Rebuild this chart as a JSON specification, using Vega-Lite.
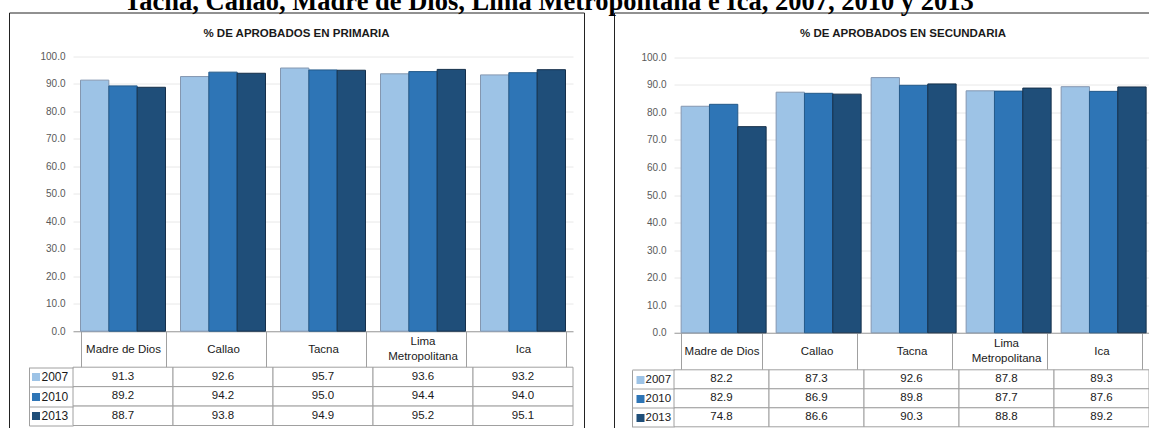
{
  "$schema": "https://vega.github.io/schema/vega-lite/v6.json",
  "padding": {"top": -11.5, "left": 8, "right": -8, "bottom": -4},
  "background": "white",
  "title": {
    "text": "Tacna, Callao, Madre de Dios, Lima Metropolitana e Ica, 2007, 2010 y 2013",
    "font": "Liberation Serif", "fontSize": 26.5, "fontWeight": "bold", "color": "#000000",
    "anchor": "start", "dx": 115, "offset": -30.5, "baseline": "alphabetic", "frame": "group"
  },
  "datasets": {
    "primaria": [
      {"region": "Madre de Dios", "year": "2007", "value": 91.3},
      {"region": "Madre de Dios", "year": "2010", "value": 89.2},
      {"region": "Madre de Dios", "year": "2013", "value": 88.7},
      {"region": "Callao", "year": "2007", "value": 92.6},
      {"region": "Callao", "year": "2010", "value": 94.2},
      {"region": "Callao", "year": "2013", "value": 93.8},
      {"region": "Tacna", "year": "2007", "value": 95.7},
      {"region": "Tacna", "year": "2010", "value": 95.0},
      {"region": "Tacna", "year": "2013", "value": 94.9},
      {"region": "Lima Metropolitana", "year": "2007", "value": 93.6},
      {"region": "Lima Metropolitana", "year": "2010", "value": 94.4},
      {"region": "Lima Metropolitana", "year": "2013", "value": 95.2},
      {"region": "Ica", "year": "2007", "value": 93.2},
      {"region": "Ica", "year": "2010", "value": 94.0},
      {"region": "Ica", "year": "2013", "value": 95.1}
    ],
    "secundaria": [
      {"region": "Madre de Dios", "year": "2007", "value": 82.2},
      {"region": "Madre de Dios", "year": "2010", "value": 82.9},
      {"region": "Madre de Dios", "year": "2013", "value": 74.8},
      {"region": "Callao", "year": "2007", "value": 87.3},
      {"region": "Callao", "year": "2010", "value": 86.9},
      {"region": "Callao", "year": "2013", "value": 86.6},
      {"region": "Tacna", "year": "2007", "value": 92.6},
      {"region": "Tacna", "year": "2010", "value": 89.8},
      {"region": "Tacna", "year": "2013", "value": 90.3},
      {"region": "Lima Metropolitana", "year": "2007", "value": 87.8},
      {"region": "Lima Metropolitana", "year": "2010", "value": 87.7},
      {"region": "Lima Metropolitana", "year": "2013", "value": 88.8},
      {"region": "Ica", "year": "2007", "value": 89.3},
      {"region": "Ica", "year": "2010", "value": 87.6},
      {"region": "Ica", "year": "2013", "value": 89.2}
    ]
  },
  "spacing": 28,
  "hconcat": [
    {
      "width": 575, "height": 420,
      "data": {"name": "primaria"},
      "title": {"text": "% DE APROBADOS EN PRIMARIA", "font": "Liberation Sans", "fontSize": 11.5, "fontWeight": "bold", "color": "#1a1a1a", "anchor": "middle", "frame": "group", "baseline": "middle", "offset": -38.6},
      "layer": [
        {
          "mark": {"type": "bar", "strokeWidth": 1},
          "encoding": {
            "x": {"field": "region", "type": "nominal", "sort": null,
              "scale": {"range": [64, 564], "paddingInner": 0.15, "paddingOuter": 0.075},
              "axis": {"orient": "bottom", "offset": -101.3, "title": null, "tickBand": "extent", "tickSize": 36, "tickColor": "#a0a0a0", "domainColor": "#a0a0a0", "labelAngle": 0, "labelBaseline": "middle", "labelPadding": -18, "labelFont": "Liberation Sans", "labelFontSize": 11.5, "labelColor": "#1a1a1a", "labelLimit": 300, "labelOverlap": false, "labelExpr": "length(datum.label) > 14 ? '' : datum.label"}},
            "xOffset": {"field": "year", "type": "nominal", "scale": {"paddingInner": 0, "paddingOuter": 0}},
            "y": {"field": "value", "type": "quantitative",
              "scale": {"domain": [0, 100], "range": [318.7, 43.7], "nice": false},
              "axis": {"orient": "left", "offset": -64, "title": null, "values": [0, 10, 20, 30, 40, 50, 60, 70, 80, 90, 100], "format": ".1f", "ticks": false, "domain": false, "grid": true, "gridColor": "#e8e8e8", "labelPadding": 8, "labelFont": "Liberation Sans", "labelFontSize": 10, "labelColor": "#595959"}},
            "color": {"field": "year", "type": "nominal", "scale": {"range": ["#9DC3E6", "#2E75B6", "#1F4E79"]}, "legend": null},
            "stroke": {"field": "year", "type": "nominal", "scale": {"range": ["#8497b0", "#245a8a", "#152f4a"]}, "legend": null}
          }
        },
        {
          "mark": {"type": "rect", "fill": "white", "stroke": "#a0a0a0", "strokeWidth": 1},
          "encoding": {
            "x": {"field": "region", "type": "nominal", "sort": null, "scale": {"range": [64, 564], "paddingInner": 0, "paddingOuter": 0},
              "axis": {"orient": "top", "offset": -318.7, "title": null, "ticks": false, "domain": false, "grid": false, "labelAngle": 0, "labelBaseline": "middle", "labelPadding": -10.25, "labelFont": "Liberation Sans", "labelFontSize": 11.5, "labelColor": "#1a1a1a", "labelLineHeight": 15.5, "labelLimit": 300, "labelOverlap": false, "labelExpr": "length(datum.label) > 14 ? split(datum.label, ' ') : ''"}},
            "y": {"field": "year", "type": "nominal", "scale": {"range": [354.7, 413], "paddingInner": 0, "paddingOuter": 0},
              "axis": {"orient": "right", "offset": -555, "title": null, "domain": true, "domainColor": "#a0a0a0", "tickBand": "extent", "tickSize": 44, "tickColor": "#a0a0a0", "labelAlign": "left", "labelBaseline": "middle", "labelPadding": -32, "labelFont": "Liberation Sans", "labelFontSize": 12, "labelColor": "#1a1a1a", "grid": false}}
          }
        },
        {
          "mark": {"type": "text", "font": "Liberation Sans", "fontSize": 11.5, "color": "#1a1a1a", "align": "center", "baseline": "middle"},
          "encoding": {
            "x": {"field": "region", "type": "nominal", "sort": null, "scale": {"range": [64, 564], "paddingInner": 0, "paddingOuter": 0}, "axis": null},
            "y": {"field": "year", "type": "nominal", "scale": {"range": [354.7, 413], "paddingInner": 0, "paddingOuter": 0},
              "axis": {"orient": "right", "offset": -552.5, "title": null, "domain": false, "labels": false, "ticks": true, "tickSize": 8, "tickWidth": 8, "grid": false,
                "tickColor": {"condition": [{"test": "datum.value === '2007'", "value": "#9DC3E6"}, {"test": "datum.value === '2010'", "value": "#2E75B6"}], "value": "#1F4E79"}}},
            "text": {"field": "value", "type": "quantitative", "format": ".1f"}
          }
        }
      ],
      "resolve": {"scale": {"x": "independent", "y": "independent"}, "axis": {"x": "independent", "y": "independent"}}
    },
    {
      "width": 545, "height": 420,
      "data": {"name": "secundaria"},
      "title": {"text": "% DE APROBADOS EN SECUNDARIA", "font": "Liberation Sans", "fontSize": 11.5, "fontWeight": "bold", "color": "#1a1a1a", "anchor": "start", "frame": "group", "baseline": "middle", "offset": -38.6, "dx": 186},
      "layer": [
        {
          "mark": {"type": "bar", "strokeWidth": 1},
          "encoding": {
            "x": {"field": "region", "type": "nominal", "sort": null,
              "scale": {"range": [60, 535], "paddingInner": 0.15, "paddingOuter": 0.075},
              "axis": {"orient": "bottom", "offset": -99.7, "title": null, "tickBand": "extent", "tickSize": 37, "tickColor": "#a0a0a0", "domainColor": "#a0a0a0", "labelAngle": 0, "labelBaseline": "middle", "labelPadding": -18.6, "labelFont": "Liberation Sans", "labelFontSize": 11.5, "labelColor": "#1a1a1a", "labelLimit": 300, "labelOverlap": false, "labelExpr": "length(datum.label) > 14 ? '' : datum.label"}},
            "xOffset": {"field": "year", "type": "nominal", "scale": {"paddingInner": 0, "paddingOuter": 0}},
            "y": {"field": "value", "type": "quantitative",
              "scale": {"domain": [0, 100], "range": [320.3, 44.7], "nice": false},
              "axis": {"orient": "left", "offset": -60, "title": null, "values": [0, 10, 20, 30, 40, 50, 60, 70, 80, 90, 100], "format": ".1f", "ticks": false, "domain": false, "grid": true, "gridColor": "#e8e8e8", "labelPadding": 8, "labelFont": "Liberation Sans", "labelFontSize": 10, "labelColor": "#595959"}},
            "color": {"field": "year", "type": "nominal", "scale": {"range": ["#9DC3E6", "#2E75B6", "#1F4E79"]}, "legend": null},
            "stroke": {"field": "year", "type": "nominal", "scale": {"range": ["#8497b0", "#245a8a", "#152f4a"]}, "legend": null}
          }
        },
        {
          "mark": {"type": "rect", "fill": "white", "stroke": "#a0a0a0", "strokeWidth": 1},
          "encoding": {
            "x": {"field": "region", "type": "nominal", "sort": null, "scale": {"range": [60, 535], "paddingInner": 0, "paddingOuter": 0},
              "axis": {"orient": "top", "offset": -320.3, "title": null, "ticks": false, "domain": false, "grid": false, "labelAngle": 0, "labelBaseline": "middle", "labelPadding": -10.65, "labelFont": "Liberation Sans", "labelFontSize": 11.5, "labelColor": "#1a1a1a", "labelLineHeight": 15.5, "labelLimit": 300, "labelOverlap": false, "labelExpr": "length(datum.label) > 14 ? split(datum.label, ' ') : ''"}},
            "y": {"field": "year", "type": "nominal", "scale": {"range": [357.3, 414.3], "paddingInner": 0, "paddingOuter": 0},
              "axis": {"orient": "right", "offset": -527, "title": null, "domain": true, "domainColor": "#a0a0a0", "tickBand": "extent", "tickSize": 42, "tickColor": "#a0a0a0", "labelAlign": "left", "labelBaseline": "middle", "labelPadding": -29, "labelFont": "Liberation Sans", "labelFontSize": 11.5, "labelColor": "#1a1a1a", "grid": false}}
          }
        },
        {
          "mark": {"type": "text", "font": "Liberation Sans", "fontSize": 11.5, "color": "#1a1a1a", "align": "center", "baseline": "middle"},
          "encoding": {
            "x": {"field": "region", "type": "nominal", "sort": null, "scale": {"range": [60, 535], "paddingInner": 0, "paddingOuter": 0}, "axis": null},
            "y": {"field": "year", "type": "nominal", "scale": {"range": [357.3, 414.3], "paddingInner": 0, "paddingOuter": 0},
              "axis": {"orient": "right", "offset": -523, "title": null, "domain": false, "labels": false, "ticks": true, "tickSize": 8, "tickWidth": 8, "grid": false,
                "tickColor": {"condition": [{"test": "datum.value === '2007'", "value": "#9DC3E6"}, {"test": "datum.value === '2010'", "value": "#2E75B6"}], "value": "#1F4E79"}}},
            "text": {"field": "value", "type": "quantitative", "format": ".1f"}
          }
        }
      ],
      "resolve": {"scale": {"x": "independent", "y": "independent"}, "axis": {"x": "independent", "y": "independent"}}
    }
  ],
  "config": {
    "view": {"stroke": "#222222", "strokeWidth": 1},
    "font": "Liberation Sans"
  }
}
